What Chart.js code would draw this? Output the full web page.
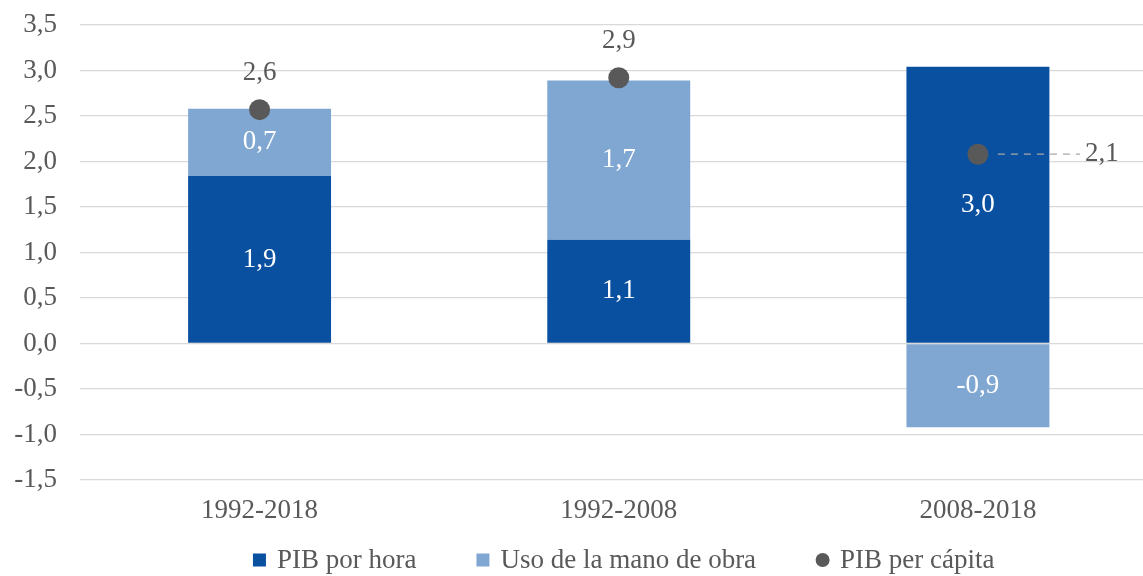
<!DOCTYPE html>
<html>
<head>
<meta charset="utf-8">
<script src="https://cdn.jsdelivr.net/npm/chart.js@4/dist/chart.umd.min.js"></script>
<style>
  html, body { margin: 0; padding: 0; background: #ffffff; overflow: hidden; }
  #wrap { width: 1168px; height: 576px; }
</style>
</head>
<body>
<div id="wrap"><canvas id="c" width="1168" height="576"></canvas></div>
<script>
const categories = ['1992-2018', '1992-2008', '2008-2018'];
const pibPorHora = [1.84, 1.14, 3.04];
const usoManoObra = [0.74, 1.75, -0.92];
const pibPerCapita = [2.57, 2.92, 2.08];
const pibPorHoraLabels = ['1,9', '1,1', '3,0'];
const usoManoObraLabels = ['0,7', '1,7', '-0,9'];
const pibPerCapitaLabels = ['2,6', '2,9', '2,1'];
const seriesNames = ['PIB por hora', 'Uso de la mano de obra', 'PIB per cápita'];
const yTicks = [-1.5, -1.0, -0.5, 0.0, 0.5, 1.0, 1.5, 2.0, 2.5, 3.0, 3.5];

const FONT = "'Liberation Serif', 'Times New Roman', serif";
const FSIZE = 27;
const GREY = '#595959';
const DARK = '#0A50A1';
const LIGHT = '#80A7D2';

const labelsPlugin = {
  id: 'valueLabels',
  afterDatasetsDraw(chart) {
    const ctx = chart.ctx;
    ctx.save();
    ctx.font = FSIZE + 'px ' + FONT;
    ctx.textBaseline = 'middle';
    ctx.textAlign = 'center';
    const barLabels = [pibPorHoraLabels, usoManoObraLabels];
    [0, 1].forEach(di => {
      const meta = chart.getDatasetMeta(di);
      meta.data.forEach((el, j) => {
        ctx.fillStyle = '#ffffff';
        ctx.fillText(barLabels[di][j], el.x, (el.y + el.base) / 2);
      });
    });
    const pm = chart.getDatasetMeta(2);
    pm.data.forEach((el, j) => {
      ctx.fillStyle = GREY;
      if (j < 2) {
        ctx.textAlign = 'center';
        ctx.fillText(pibPerCapitaLabels[j], el.x, el.y - 37);
      } else {
        ctx.strokeStyle = '#A6A6A6';
        ctx.lineWidth = 1.3;
        ctx.setLineDash([7, 6]);
        ctx.beginPath();
        ctx.moveTo(el.x + 20, el.y);
        ctx.lineTo(el.x + 102, el.y);
        ctx.stroke();
        ctx.setLineDash([]);
        ctx.textAlign = 'left';
        ctx.fillText(pibPerCapitaLabels[j], el.x + 107, el.y);
      }
    });
    ctx.restore();
  }
};

const legendPlugin = {
  id: 'customLegend',
  afterDraw(chart) {
    const ctx = chart.ctx;
    ctx.save();
    ctx.font = FSIZE + 'px ' + FONT;
    ctx.textBaseline = 'middle';
    ctx.textAlign = 'left';
    const box = 13, gap = 11, itemGap = 60;
    const ds = chart.data.datasets;
    const widths = ds.map(d => box + gap + ctx.measureText(d.label).width);
    const total = widths.reduce((a, b) => a + b, 0) + itemGap * (ds.length - 1);
    const cx = (chart.chartArea.left + chart.chartArea.right) / 2 + 5;
    let x = cx - total / 2;
    const y = 560;
    ds.forEach((d, i) => {
      ctx.fillStyle = d.type === 'line' ? d.pointBackgroundColor : d.backgroundColor;
      if (d.type === 'line') {
        ctx.beginPath();
        ctx.arc(x + box / 2, y, 7, 0, Math.PI * 2);
        ctx.fill();
      } else {
        ctx.fillRect(x, y - box / 2, box, box);
      }
      ctx.fillStyle = GREY;
      ctx.fillText(d.label, x + box + gap, y + 1);
      x += widths[i] + itemGap;
    });
    ctx.restore();
  }
};

new Chart(document.getElementById('c'), {
  data: {
    labels: categories,
    datasets: [
      { type: 'bar', label: seriesNames[0], data: pibPorHora, backgroundColor: DARK, order: 2,
        barPercentage: 0.398, categoryPercentage: 1.0 },
      { type: 'bar', label: seriesNames[1], data: usoManoObra, backgroundColor: LIGHT, order: 2,
        barPercentage: 0.398, categoryPercentage: 1.0 },
      { type: 'line', label: seriesNames[2], data: pibPerCapita, showLine: false,
        pointRadius: 10.5, pointHoverRadius: 10.5, pointBackgroundColor: GREY, pointBorderWidth: 0,
        borderColor: GREY, order: 0 }
    ]
  },
  options: {
    responsive: false,
    devicePixelRatio: 1,
    animation: false,
    layout: { padding: { top: 25, left: 0, right: 0, bottom: 46 } },
    plugins: { legend: { display: false }, tooltip: { enabled: false } },
    scales: {
      x: {
        stacked: true,
        grid: { display: false, drawTicks: false },
        border: { display: false },
        ticks: { color: GREY, font: { family: FONT, size: FSIZE }, padding: 15, maxRotation: 0 },
        afterFit(scale) { scale.height = 50; }
      },
      y: {
        stacked: true,
        min: -1.5,
        max: 3.5,
        afterBuildTicks(scale) { scale.ticks = yTicks.map(v => ({ value: v })); },
        grid: { color: '#D9D9D9', lineWidth: 1.3, drawTicks: false },
        border: { display: false },
        ticks: {
          color: GREY,
          font: { family: FONT, size: FSIZE },
          padding: 23,
          callback: v => Number(v).toFixed(1).replace('.', ',')
        },
        afterFit(scale) { scale.width = 80; scale.paddingTop = 0; scale.paddingBottom = 0; }
      }
    }
  },
  plugins: [labelsPlugin, legendPlugin]
});
</script>
</body>
</html>
